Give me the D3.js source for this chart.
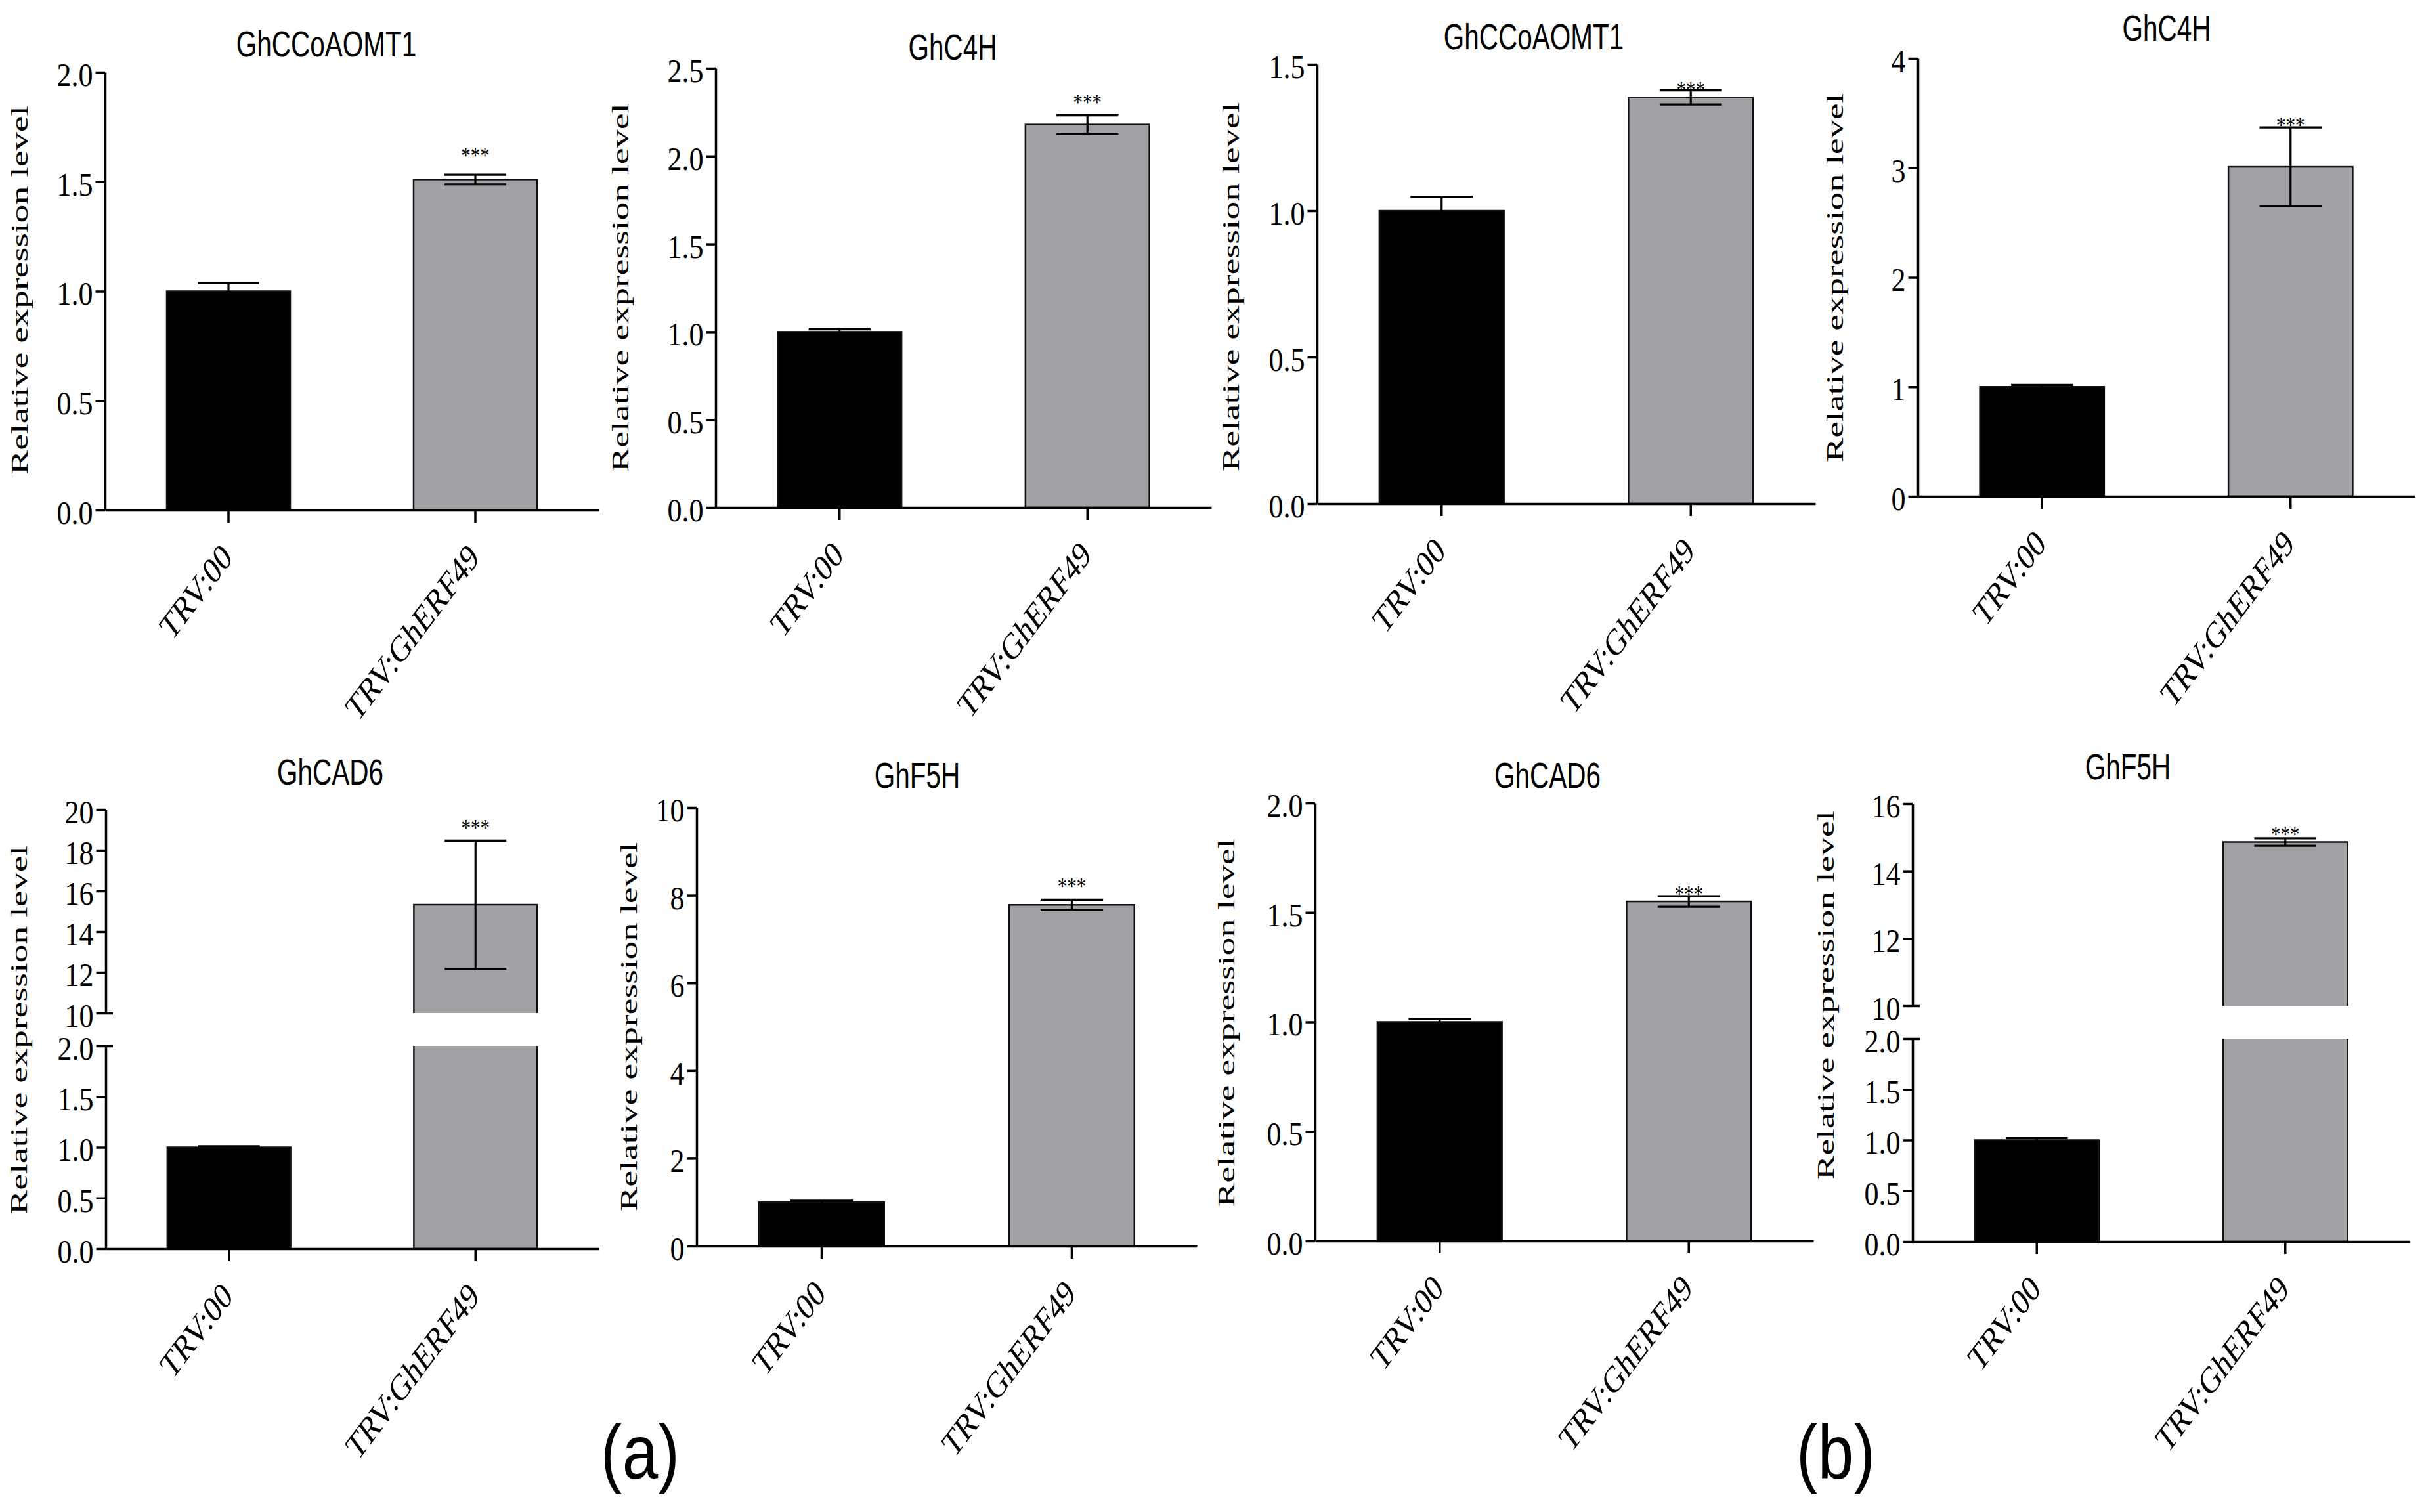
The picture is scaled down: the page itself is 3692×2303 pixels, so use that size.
<!DOCTYPE html>
<html><head><meta charset="utf-8">
<script src="https://cdn.jsdelivr.net/npm/d3@7"></script>
<style>html,body{margin:0;padding:0;background:#fff;} svg{display:block;}</style>
</head><body>
<svg id="chart" width="3692" height="2303" viewBox="0 0 3692 2303"></svg>
<script>
// ---------------- DATA ----------------
const categories = ["TRV:00", "TRV:GhERF49"];
const panelTitles = ["GhCCoAOMT1", "GhC4H", "GhCCoAOMT1", "GhC4H", "GhCAD6", "GhF5H", "GhCAD6", "GhF5H"];
const meanValues = [
  [1.0, 1.51], [1.0, 2.18], [1.0, 1.387], [1.0, 3.01],
  [1.0, 15.32], [1.0, 7.78], [1.0, 1.55], [1.0, 14.86]
];
const errValues = [
  [0.037, 0.022], [0.014, 0.052], [0.048, 0.024], [0.017, 0.36],
  [0.01, 3.15], [0.035, 0.12], [0.013, 0.024], [0.018, 0.11]
];
const significance = ["", "***"];
const yDomains = [[0, 2], [0, 2.5], [0, 1.5], [0, 4], [0, 2], [0, 10], [0, 2], [0, 2]];
const upperDomains = [null, null, null, null, [10, 20], null, null, [10, 16]];
const tickValues = [
  [0, 0.5, 1, 1.5, 2], [0, 0.5, 1, 1.5, 2, 2.5], [0, 0.5, 1, 1.5], [0, 1, 2, 3, 4],
  [0, 0.5, 1, 1.5, 2], [0, 2, 4, 6, 8, 10], [0, 0.5, 1, 1.5, 2], [0, 0.5, 1, 1.5, 2]
];
const upperTickValues = [null, null, null, null, [10, 12, 14, 16, 18, 20], null, null, [10, 12, 14, 16]];
const tickFormats = [".1f", ".1f", ".1f", "d", ".1f", "d", ".1f", ".1f"];
const yAxisLabel = "Relative expression level";
const panelLetters = ["(a)", "(b)"];

// ---------------- LAYOUT (pixels) ----------------
const layout = [
  {left:160, right:912, y0:777, yTop:110, titleX:497, titleY:86, labelX:42, labelY:442, starGap:34},
  {left:1090, right:1845, y0:773, yTop:104, titleX:1451, titleY:91, labelX:957, labelY:438, starGap:25},
  {left:2006, right:2765, y0:767, yTop:98, titleX:2336, titleY:75, labelX:1887, labelY:437, starGap:6},
  {left:2921, right:3678, y0:756, yTop:89, titleX:3300, titleY:62, labelX:2807, labelY:423, starGap:8},
  {left:161, right:912, y0:1902, yTop:1593, upperBottom:1543, upperTop:1233, titleX:503, titleY:1195, labelX:41, labelY:1569, starGap:24},
  {left:1061, right:1823, y0:1898, yTop:1230, titleX:1397, titleY:1200, labelX:970, labelY:1564, starGap:25},
  {left:2003, right:2762, y0:1890, yTop:1223, titleX:2357, titleY:1200, labelX:1880, labelY:1558, starGap:8},
  {left:2913, right:3670, y0:1891, yTop:1582, upperBottom:1532, upperTop:1224, titleX:3241, titleY:1187, labelX:2793, labelY:1516, starGap:11}
];
const letterLayout = [{x:975, y:2252}, {x:2796, y:2252}];

const SERIF = "'Liberation Serif','Times New Roman',Times,serif";
const SANS = "'Liberation Sans',Arial,Helvetica,sans-serif";
const barColors = ["#000000", "#a2a2a6"];
const AXW = 3.5, ERRW = 3.2, BARW = 2.5;

const svg = d3.select("#chart");
svg.append("rect").attr("width", 3692).attr("height", 2303).attr("fill", "#fff");

function styleAxis(ga) {
  ga.attr("font-size", null).attr("font-family", null);
  ga.select(".domain").attr("stroke", "#000").attr("stroke-width", AXW);
  ga.selectAll(".tick line").attr("stroke", "#000").attr("stroke-width", AXW);
}
function styleYText(ga) {
  ga.selectAll(".tick text")
    .attr("font-family", SERIF).attr("font-size", 44).attr("fill", "#000")
    .attr("dy", "0.4em").attr("transform", "scale(1,1.16)");
}

panelTitles.forEach((title, i) => {
  const L = layout[i];
  const g = svg.append("g");
  const x = d3.scaleBand().domain(categories).range([L.left, L.right]).paddingInner(0.5).paddingOuter(0.25);
  const broken = upperDomains[i] != null;
  const yLow = d3.scaleLinear().domain(yDomains[i]).range([L.y0, L.yTop]);
  const yUp = broken ? d3.scaleLinear().domain(upperDomains[i]).range([L.upperBottom, L.upperTop]) : null;
  const yOf = v => (broken && v >= upperDomains[i][0]) ? yUp(v) : yLow(v);
  const bw = x.bandwidth();

  // bars
  categories.forEach((c, j) => {
    const v = meanValues[i][j];
    const bx = x(c);
    if (broken && v > upperDomains[i][0]) {
      const yl0 = yLow(yDomains[i][0]), yl1 = yLow(yDomains[i][1]);
      g.append("rect").attr("x", bx).attr("y", yl1).attr("width", bw).attr("height", yl0 - yl1).attr("fill", barColors[j]);
      g.append("path").attr("d", `M${bx},${yl1}V${yl0}H${bx + bw}V${yl1}`)
        .attr("fill", "none").attr("stroke", "#111").attr("stroke-width", BARW);
      const yu0 = yUp(upperDomains[i][0]), yu1 = yUp(v);
      g.append("rect").attr("x", bx).attr("y", yu1).attr("width", bw).attr("height", yu0 - yu1).attr("fill", barColors[j]);
      g.append("path").attr("d", `M${bx},${yu0}V${yu1}H${bx + bw}V${yu0}`)
        .attr("fill", "none").attr("stroke", "#111").attr("stroke-width", BARW);
    } else {
      g.append("rect").attr("x", bx).attr("y", yLow(v)).attr("width", bw).attr("height", yLow(0) - yLow(v))
        .attr("fill", barColors[j]).attr("stroke", "#111").attr("stroke-width", BARW);
    }
  });

  // error bars and significance
  categories.forEach((c, j) => {
    const v = meanValues[i][j], e = errValues[i][j];
    const cx = x(c) + bw / 2;
    const yHi = yOf(v + e), yLo = yOf(v - e);
    const cap = bw / 4;
    const eg = g.append("g").attr("stroke", "#000").attr("stroke-width", ERRW);
    eg.append("line").attr("x1", cx).attr("x2", cx).attr("y1", yHi).attr("y2", yLo);
    eg.append("line").attr("x1", cx - cap).attr("x2", cx + cap).attr("y1", yHi).attr("y2", yHi);
    eg.append("line").attr("x1", cx - cap).attr("x2", cx + cap).attr("y1", yLo).attr("y2", yLo);
    if (significance[j]) {
      g.append("text")
        .attr("transform", `translate(${cx},${yHi - L.starGap}) scale(1,1.25)`)
        .attr("y", 13.6).attr("text-anchor", "middle")
        .attr("font-family", SERIF).attr("font-size", 29).attr("fill", "#000")
        .text(significance[j]);
    }
  });

  // y axis
  const ga = g.append("g").attr("transform", `translate(${L.left},0)`)
    .call(d3.axisLeft(yLow).tickValues(tickValues[i]).tickFormat(d3.format(tickFormats[i]))
      .tickSize(14.5).tickSizeOuter(0).tickPadding(4));
  styleAxis(ga); styleYText(ga);
  if (broken) {
    ga.selectAll(".tick line").filter(d => d === yDomains[i][1]).attr("x1", 11);
    const gu = g.append("g").attr("transform", `translate(${L.left},0)`)
      .call(d3.axisLeft(yUp).tickValues(upperTickValues[i]).tickFormat(d3.format("d"))
        .tickSize(14.5).tickSizeOuter(0).tickPadding(4));
    styleAxis(gu); styleYText(gu);
    gu.selectAll(".tick line").filter(d => d === upperDomains[i][0]).attr("x1", 11);
  }

  // x axis
  const gx = g.append("g").attr("transform", `translate(0,${L.y0})`)
    .call(d3.axisBottom(x).tickSize(19).tickSizeOuter(0).tickFormat(""));
  styleAxis(gx);
  gx.selectAll(".tick").append("text")
    .attr("transform", "translate(8,75) scale(1,1.33) rotate(-45)")
    .attr("text-anchor", "end").attr("font-family", SERIF).attr("font-size", 43).attr("fill", "#000")
    .text(d => d);

  // title
  g.append("text")
    .attr("transform", `translate(${L.titleX},${L.titleY}) scale(1,1.35)`)
    .attr("text-anchor", "middle").attr("font-family", SANS).attr("font-size", 40.5).attr("fill", "#000")
    .text(title);

  // y label
  g.append("text")
    .attr("transform", `translate(${L.labelX},${L.labelY}) rotate(-90)`)
    .attr("text-anchor", "middle").attr("font-family", SERIF).attr("font-size", 36).attr("fill", "#000")
    .attr("textLength", 562).attr("lengthAdjust", "spacingAndGlyphs")
    .text(yAxisLabel);
});

panelLetters.forEach((t, k) => {
  svg.append("text")
    .attr("transform", `translate(${letterLayout[k].x},${letterLayout[k].y}) scale(1,1.2)`)
    .attr("text-anchor", "middle").attr("font-family", SANS).attr("font-size", 98).attr("fill", "#000")
    .text(t);
});
</script>
</body></html>
